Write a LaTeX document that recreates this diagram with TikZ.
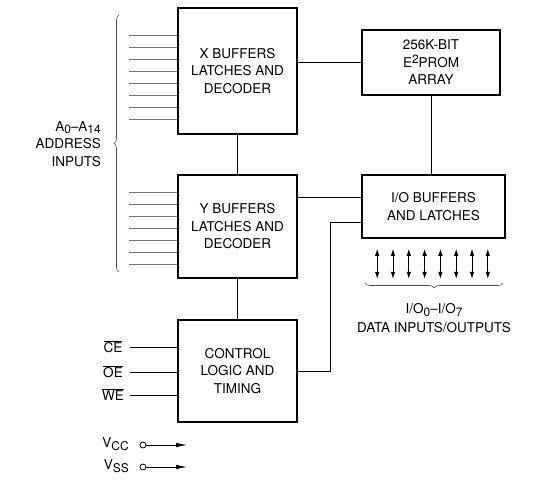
\documentclass[tikz,border=0pt]{standalone}
\usepackage{fontspec}
\setmainfont{TeX Gyre Heros}
\usepackage{tikz}
\usetikzlibrary{arrows.meta,calc,positioning,decorations.pathreplacing}

\newcommand{\dn}[1]{\raisebox{-0.35ex}{\fontsize{12}{12}\selectfont #1}}
\newcommand{\up}[1]{\raisebox{0.6ex}{\fontsize{12}{12}\selectfont #1}}
\newcommand{\negsig}[1]{$\overline{\mbox{#1}}$}

\begin{document}
\begin{tikzpicture}[x=1pt,y=-1pt,>={Latex[length=7pt,width=4.5pt]},
  blk/.style={draw,line width=1.6pt,align=center,inner sep=0pt},
  lbl/.style={align=center,inner sep=0pt},
  wire/.style={line width=0.8pt},
  addr/.style={line width=0.8pt,black!55}]
\useasboundingbox (0,0) rectangle (556,479);
\fontsize{13.5}{17.5}\selectfont
% blocks
\node[blk,minimum width=119pt,minimum height=126pt] (xbuf) at (237.5,71) {X BUFFERS\\LATCHES AND\\DECODER};
\node[blk,minimum width=119pt,minimum height=103pt] (ybuf) at (237.5,226.5) {Y BUFFERS\\LATCHES AND\\DECODER};
\node[blk,minimum width=119pt,minimum height=102pt] (ctrl) at (237.5,371) {CONTROL\\LOGIC AND\\TIMING};
\node[blk,minimum width=138pt,minimum height=65pt] (prom) at (431,62.5) {256K-BIT\\E\up{2}PROM\\ARRAY};
\node[blk,minimum width=143pt,minimum height=63pt] (io) at (433.5,206.5) {I/O BUFFERS\\AND LATCHES};
% links between blocks
\draw[wire] (xbuf.east |- prom.west) -- (prom.west);
\draw[wire] (xbuf) -- (ybuf);
\draw[wire] (ybuf) -- (ctrl);
\draw[wire] (prom.south) -- (io.north -| prom.south);
\draw[wire] (ybuf.east |- 0,197) -- (io.west |- 0,197);
\draw[wire] (io.west |- 0,222) -- (330,222) |- (ctrl.east);
% address lines
\foreach \i in {0,...,7}
  \draw[addr] (xbuf.west |- 0,{35+12*\i}) -- ++(-48,0);
\foreach \i in {0,...,6}
  \draw[addr] (ybuf.west |- 0,{192+12*\i}) -- ++(-48,0);
\draw[line width=0.6pt,black!70,decorate,decoration={brace,amplitude=5pt}]
  (119,272) -- (119,15);
\node[lbl,align=right,anchor=east] (alab) at (101,144) {A\dn{0}--A\dn{14}\\ADDRESS\\INPUTS};
% data lines
\foreach \k in {0,...,7}
  \draw[wire,<->] ($(io.south west)+({16+15.8*\k},10)$) -- ++(0,30);
\draw[line width=0.6pt,black!70,decorate,decoration={brace,amplitude=5pt}]
  (503,283) -- (365,283);
\node[lbl] (dlab) at (434,318) {I/O\dn{0}--I/O\dn{7}\\[1pt]DATA INPUTS/OUTPUTS};
% control inputs
\foreach \s/\y in {CE/347,OE/372,WE/395}{
  \node[lbl] (\s) at (113,\y) {\negsig{\s}};
  \draw[wire] (130,\y) -- (ctrl.west |- 0,\y);
}
% supply
\node[lbl,anchor=east] (vcc) at (129,444) {V\dn{CC}};
\node[lbl,anchor=east] (vss) at (129,466) {V\dn{SS}};
\foreach \v/\y in {vcc/445,vss/467}{
  \draw[wire] (143,\y) circle (3pt);
  \draw[wire,-{Latex[length=11pt,width=4.5pt]}] (146,\y) -- (187,\y);
}
\end{tikzpicture}
\end{document}
